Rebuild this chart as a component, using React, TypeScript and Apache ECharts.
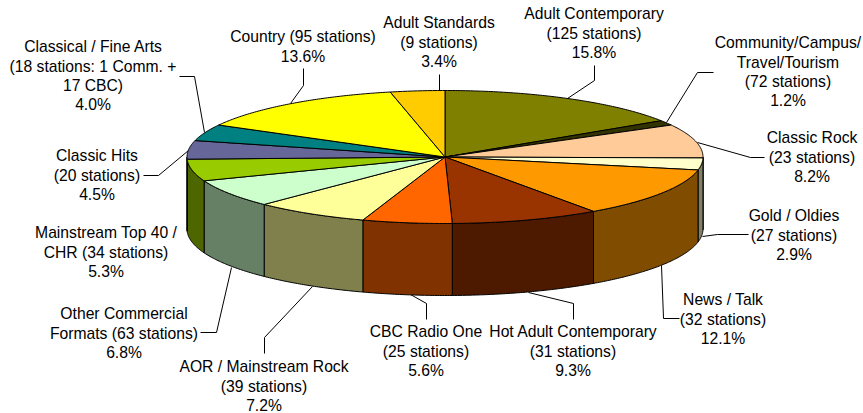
import React, { useEffect, useRef } from "react";
import * as echarts from "echarts";

const categories = [
  "Adult Contemporary\n(125 stations)",
  "Community/Campus/\nTravel/Tourism\n(72 stations)",
  "Classic Rock\n(23 stations)",
  "Gold / Oldies\n(27 stations)",
  "News / Talk\n(32 stations)",
  "Hot Adult Contemporary\n(31 stations)",
  "CBC Radio One\n(25 stations)",
  "AOR / Mainstream Rock\n(39 stations)",
  "Other Commercial\nFormats (63 stations)",
  "Mainstream Top 40 /\nCHR (34 stations)",
  "Classic Hits\n(20 stations)",
  "Classical / Fine Arts\n(18 stations: 1 Comm. +\n17 CBC)",
  "Country (95 stations)",
  "Adult Standards\n(9 stations)",
];
const percents = [15.8, 1.2, 8.2, 2.9, 12.1, 9.3, 5.6, 7.2, 6.8, 5.3, 4.5, 4.0, 13.6, 3.4];
const topColors = [
  "#808000", "#333300", "#FFCC99", "#FFFFCC", "#FF9900", "#993300", "#FF6600",
  "#FFFF99", "#CCFFCC", "#99CC00", "#666699", "#008080", "#FFFF00", "#FFCC00",
];

// Layout of the labels: centre x, y of the first line's centre.
const labelAnchors: [number, number][] = [
  [594, 14], [788, 43], [812, 138], [794, 216], [723, 300], [573, 332], [426, 332],
  [264, 367], [124, 314], [106, 233], [97, 156], [93, 47], [303, 37], [439, 23],
];
// Leader lines, label end first.
const leaders: ([number, number][] | null)[] = [
  [[594, 65], [594, 80], [567, 98]],
  [[713, 72], [697, 72], [666, 122]],
  [[764, 157], [750, 157], [697, 142]],
  [[748, 234], [717, 234], [702, 236]],
  [[679, 318], [663, 318], [661, 265]],
  [[573, 319], [573, 303], [528, 292]],
  [[426, 319], [426, 303], [410, 294]],
  [[264, 353], [264, 337], [312, 286]],
  [[200, 332], [216, 332], [231, 267]],
  null,
  [[143, 175], [158, 175], [188, 150]],
  [[179, 76], [194, 76], [204, 132]],
  [[303, 68], [303, 85], [290, 103]],
  [[439, 74], [439, 90]],
];

const FONT = '"Liberation Sans", Arial, sans-serif';
const FONT_SIZE = 15.7;
const LINE_H = 19.3;
const DEPTH = 72;

function shade(hex: string): string {
  const n = parseInt(hex.slice(1), 16);
  const c = (v: number) => Math.round(v * 0.5);
  return `rgb(${c((n >> 16) & 255)},${c((n >> 8) & 255)},${c(n & 255)})`;
}

function arc(api: any, a: number, b: number, dy = 0): number[][] {
  const pts: number[][] = [];
  const n = Math.max(2, Math.ceil((b - a) / 0.01));
  for (let i = 0; i <= n; i++) {
    const t = a + ((b - a) * i) / n;
    const p = api.coord([Math.sin(t), Math.cos(t)]);
    pts.push([p[0], p[1] + dy]);
  }
  return pts;
}

export default function App() {
  const ref = useRef<HTMLDivElement>(null);
  useEffect(() => {
    document.body.style.margin = "0";
    const chart = echarts.init(ref.current!, undefined, { renderer: "svg" });
    const total = percents.reduce((s, v) => s + v, 0);
    let cum = 0;
    const slices = percents.map((p, i) => {
      const start = (cum / total) * Math.PI * 2;
      cum += p;
      return [start, (cum / total) * Math.PI * 2, i];
    });

    const textEls = categories.map((c, i) => ({
      type: "text",
      z: 10,
      x: labelAnchors[i][0],
      y: labelAnchors[i][1] - LINE_H / 2,
      style: {
        text: `${c}\n${percents[i].toFixed(1)}%`,
        fill: "#000",
        font: `${FONT_SIZE}px ${FONT}`,
        lineHeight: LINE_H,
        align: "center",
        verticalAlign: "top",
      },
    }));
    const lineEls = leaders.filter(Boolean).map((pts) => ({
      type: "polyline",
      z: 1,
      shape: { points: pts!.map(([x, y]) => [x + 0.5, y + 0.5]) },
      style: { stroke: "#000", lineWidth: 1, fill: "none" },
    }));

    chart.setOption({
      animation: false,
      backgroundColor: "#fff",
      grid: { left: 187, top: 90.5, width: 516, height: 133 },
      xAxis: { type: "value", min: -1, max: 1, show: false },
      yAxis: { type: "value", min: -1, max: 1, show: false },
      graphic: { elements: [...lineEls, ...textEls] },
      series: [
        {
          type: "custom",
          coordinateSystem: "cartesian2d",
          z: 2,
          silent: true,
          clip: false,
          data: slices,
          encode: { x: 2, y: 2 },
          renderItem: (_: any, api: any) => {
            const a = Math.max(api.value(0), Math.PI / 2);
            const b = Math.min(api.value(1), (Math.PI * 3) / 2);
            if (b <= a) return { type: "group", children: [] };
            const top = arc(api, a, b);
            const bottom = arc(api, a, b, DEPTH).reverse();
            return {
              type: "polygon",
              shape: { points: [...top, ...bottom] },
              style: { fill: shade(topColors[api.value(2)]), stroke: "#000", lineWidth: 1 },
            };
          },
        },
        {
          type: "custom",
          coordinateSystem: "cartesian2d",
          z: 3,
          silent: true,
          clip: false,
          data: slices,
          encode: { x: 2, y: 2 },
          renderItem: (_: any, api: any) => {
            const c = api.coord([0, 0]);
            return {
              type: "polygon",
              shape: { points: [c, ...arc(api, api.value(0), api.value(1))] },
              style: { fill: topColors[api.value(2)], stroke: "#000", lineWidth: 1 },
            };
          },
        },
      ],
    });
    return () => chart.dispose();
  }, []);
  return <div ref={ref} style={{ width: 863, height: 413 }} />;
}
